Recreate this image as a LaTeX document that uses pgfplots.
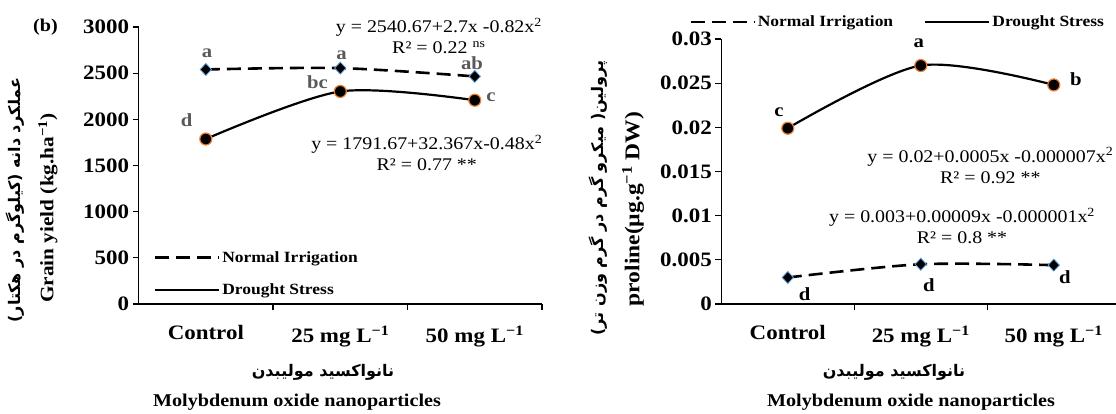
\documentclass[border=0pt]{standalone}
\usepackage{fontspec}
\setmainfont{Liberation Serif}[FakeStretch=1.12]
\newfontfamily\fa[Script=Arabic]{DejaVu Sans}
\TeXXeTstate=1
\usepackage{pgfplots}
\pgfplotsset{compat=1.18}
\definecolor{ornj}{HTML}{ED7D31}
\definecolor{lblue}{HTML}{5B9BD5}
\definecolor{lettgray}{HTML}{595959}

\pgfplotsset{
  panel/.style={
    scale only axis, clip=false,
    xmin=0.5, ymin=0,
    axis x line=bottom, axis y line=left,
    axis line style={-, line width=1.6pt},
    every tick/.style={black, line width=1.3pt},
    tick align=outside, major tick length=6pt, minor tick length=6pt,
    xtick={1,2,3},
    xticklabels={Control, 25 mg L\textsuperscript{−1}, 50 mg L\textsuperscript{−1}},
    major x tick style={draw=none},
    scaled y ticks=false,
    ticklabel style={font=\fontsize{20.5}{24}\selectfont\bfseries},
    xticklabel style={yshift=-12pt},
    legend image code/.code={\draw[#1] (0pt,0pt) -- (64pt,0pt);},
    legend style={draw=none, fill=none, inner sep=0pt,
      font=\fontsize{15.6}{19}\selectfont\bfseries},
    legend cell align=left,
  },
  ni/.style={black, line width=2.6pt, dash pattern=on 14pt off 7pt, smooth,
    mark=diamond*, mark size=6pt,
    mark options={solid, fill=black, draw=lblue, line width=0.8pt, xscale=1.25}},
  ds/.style={black, line width=2.2pt, smooth,
    mark=*, mark size=6pt,
    mark options={fill=black, draw=ornj, line width=1.2pt}},
}
\tikzset{
  lett/.style={font=\fontsize{18.5}{22}\selectfont\bfseries},
  eqn/.style={align=center, font=\fontsize{17.8}{21}\selectfont},
  fatxt/.style={font=\fa\bfseries\fontsize{16}{18}\selectfont},
  entxt/.style={font=\fontsize{18}{22}\selectfont\bfseries},
}

\begin{document}
\begin{tikzpicture}
\path[use as bounding box] (0pt,0pt) rectangle (1116pt,-413pt);

% left panel: grain yield
\begin{axis}[panel, at={(138.6pt,-304pt)}, anchor=south west,
  width=403.4pt, height=277pt, xmax=3.5, ymax=3000,
  minor xtick={1.5,2.5,3.5},
  ytick={0,500,1000,1500,2000,2500,3000},
  yticklabels={0,500,1000,1500,2000,2500,3000},
  legend style={at={(0.037,0.198)}, anchor=north west, row sep=16pt}]
\addplot[ni] coordinates {(1,2540) (2,2555) (3,2465)};
\addlegendentry{Normal Irrigation}
\addplot[ds] coordinates {(1,1787) (2,2302) (3,2207)};
\addlegendentry{Drought Stress}
\node[lett, text=lettgray] at (axis cs:1.01,2718) {a};
\node[lett, text=lettgray] at (axis cs:2.009,2697) {a};
\node[lett, text=lettgray] at (axis cs:2.979,2610) {ab};
\node[lett, text=lettgray] at (axis cs:1.83,2404) {bc};
\node[lett, text=lettgray] at (axis cs:0.858,1993) {d};
\node[lett, text=lettgray] at (axis cs:3.12,2242) {c};
\node[eqn] at (axis cs:2.733,2900) {y = 2540.67+2.7x -0.82x\textsuperscript{2}\\R² = 0.22 \textsuperscript{ns}};
\node[eqn] at (axis cs:2.643,1636) {y = 1791.67+32.367x-0.48x\textsuperscript{2}\\R² = 0.77 **};
\end{axis}

% right panel: proline
\begin{axis}[panel, at={(721.3pt,-304pt)}, anchor=south west,
  width=394.7pt, height=265pt, xmax=3.468, ymax=0.03,
  minor xtick={1.5,2.5},
  ytick={0,0.005,0.01,0.015,0.02,0.025,0.03},
  yticklabels={0,0.005,0.01,0.015,0.02,0.025,0.03},
  legend columns=2,
  legend style={at={(-0.0818,1.064)}, anchor=west,
    /tikz/every even column/.append style={column sep=29pt}}]
\addplot[ni] coordinates {(1,0.0030) (2,0.0045) (3,0.0044)};
\addlegendentry{Normal Irrigation}
\addplot[ds] coordinates {(1,0.0199) (2,0.0270) (3,0.0248)};
\addlegendentry{Drought Stress}
\node[lett] at (axis cs:0.934,0.02174) {c};
\node[lett] at (axis cs:1.986,0.02955) {a};
\node[lett] at (axis cs:3.167,0.02547) {b};
\node[lett] at (axis cs:1.127,0.00113) {d};
\node[lett] at (axis cs:2.06,0.00215) {d};
\node[lett] at (axis cs:3.084,0.00309) {d};
\node[eqn] at (axis cs:2.523,0.01568) {y = 0.02+0.0005x -0.000007x\textsuperscript{2}\\R² = 0.92 **};
\node[eqn] at (axis cs:2.31,0.00883) {y = 0.003+0.00009x -0.000001x\textsuperscript{2}\\R² = 0.8 **};
\end{axis}

% panel tag, axis titles
\node[font=\fontsize{18}{20}\selectfont\bfseries] at (45.5pt,-27pt) {(b)};
\node[rotate=90, entxt, font=\fontsize{19}{22}\selectfont\bfseries] at (48pt,-208pt) {Grain yield (kg.ha\textsuperscript{−1})};
\node[rotate=90, fatxt] at (15pt,-200pt) {\beginR عملکرد دانه (کیلوگرم در هکتار)\endR};
\node[rotate=90, entxt, font=\fontsize{21}{24}\selectfont\bfseries] at (633pt,-209pt) {proline(µg.g\textsuperscript{−1} DW)};
\node[rotate=90, fatxt] at (598pt,-198pt) {\beginR پرولین( میکرو گرم در گرم وزن تر)\endR};
\node[fatxt] at (323pt,-372pt) {\beginR نانواکسید مولیبدن\endR};
\node[entxt] at (297pt,-402pt) {Molybdenum oxide nanoparticles};
\node[fatxt] at (894pt,-372pt) {\beginR نانواکسید مولیبدن\endR};
\node[entxt] at (911pt,-402pt) {Molybdenum oxide nanoparticles};
\end{tikzpicture}
\end{document}
